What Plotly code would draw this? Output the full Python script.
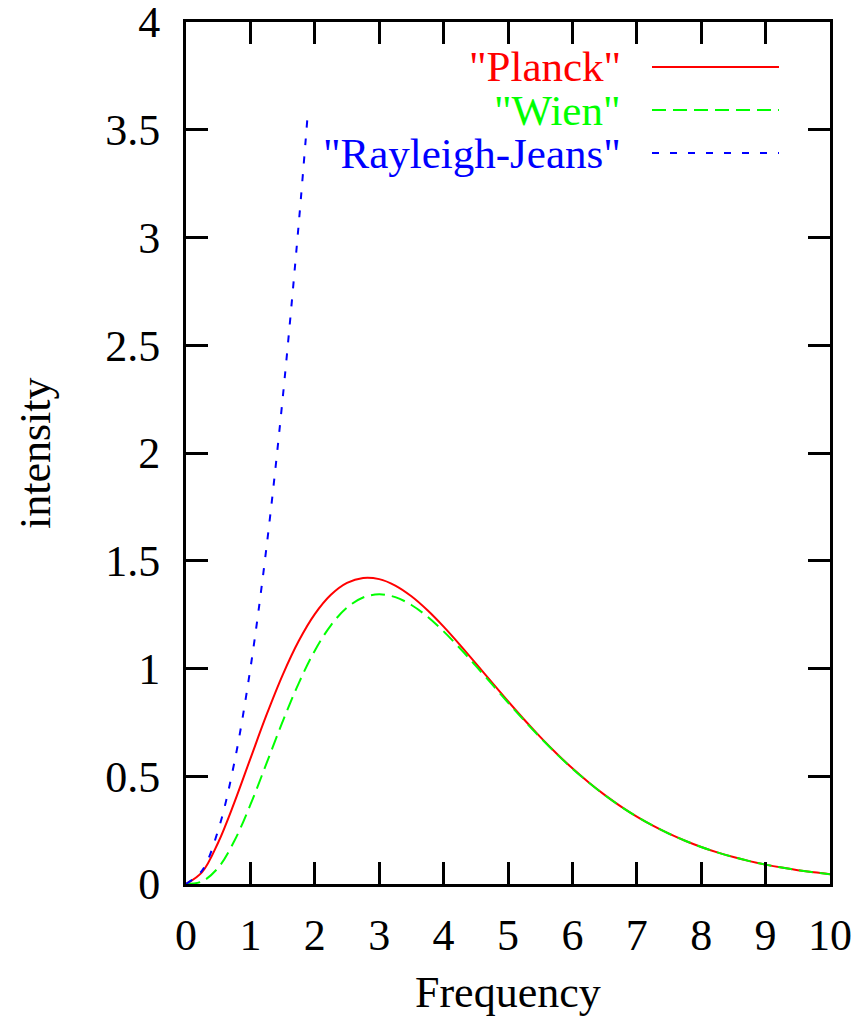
import plotly.graph_objects as go

# Frequency samples
freq = [0.0, 0.25, 0.5, 0.75, 1.0, 1.25, 1.5, 1.75, 2.0, 2.25, 2.5, 2.75, 3.0,
        3.25, 3.5, 3.75, 4.0, 4.25, 4.5, 4.75, 5.0, 5.25, 5.5, 5.75, 6.0, 6.25,
        6.5, 6.75, 7.0, 7.25, 7.5, 7.75, 8.0, 8.25, 8.5, 8.75, 9.0, 9.25, 9.5,
        9.75, 10.0]

planck = [0.0, 0.0550, 0.1927, 0.3777, 0.5820, 0.7843, 0.9694, 1.1272, 1.2521,
          1.3420, 1.3973, 1.4203, 1.4147, 1.3847, 1.3350, 1.2701, 1.1941, 1.1109,
          1.0237, 0.9353, 0.8480, 0.7633, 0.6827, 0.6070, 0.5367, 0.4722, 0.4135,
          0.3605, 0.3131, 0.2708, 0.2335, 0.2006, 0.1718, 0.1467, 0.1250, 0.1062,
          0.0900, 0.0761, 0.0642, 0.0540, 0.0454]

wien = [0.0, 0.0122, 0.0758, 0.1993, 0.3679, 0.5596, 0.7531, 0.9313, 1.0827,
        1.2006, 1.2826, 1.3295, 1.3443, 1.3310, 1.2947, 1.2402, 1.1722, 1.0950,
        1.0123, 0.9272, 0.8422, 0.7593, 0.6799, 0.6051, 0.5354, 0.4713, 0.4129,
        0.3601, 0.3128, 0.2706, 0.2333, 0.2005, 0.1718, 0.1467, 0.1250, 0.1062,
        0.0900, 0.0761, 0.0642, 0.0540, 0.0454]

rj_freq = [0.0, 0.25, 0.5, 0.75, 1.0, 1.25, 1.5, 1.75, 1.89]
rj = [0.0, 0.0625, 0.25, 0.5625, 1.0, 1.5625, 2.25, 3.0625, 3.572]

x_ticks = [0, 1, 2, 3, 4, 5, 6, 7, 8, 9, 10]
y_ticks = [0, 0.5, 1, 1.5, 2, 2.5, 3, 3.5, 4]
y_labels = ["0", "0.5", "1", "1.5", "2", "2.5", "3", "3.5", "4"]

series_names = ['"Planck"', '"Wien"', '"Rayleigh-Jeans"']
colors = ["#ff0000", "#00ff00", "#0000ff"]
dashes = ["solid", "14px,7px", "7px,11px"]

FONT = "Liberation Serif"
FS = 44
FS_KEY = 43

fig = go.Figure()
for xs, ys, name, c, d in [(freq, planck, series_names[0], colors[0], dashes[0]),
                           (freq, wien, series_names[1], colors[1], dashes[1]),
                           (rj_freq, rj, series_names[2], colors[2], dashes[2])]:
    fig.add_trace(go.Scatter(x=xs, y=ys, mode="lines", name=name,
                             line=dict(color=c, width=2, dash=d, shape="spline"),
                             showlegend=False, cliponaxis=True))

axis_common = dict(showline=True, linewidth=3, linecolor="black", mirror="ticks",
                   ticks="inside", ticklen=22, tickwidth=3, tickcolor="black",
                   showgrid=False, zeroline=False, ticklabeloverflow="allow",
                   automargin=False,
                   tickfont=dict(family=FONT, size=FS, color="black"))

fig.update_xaxes(range=[0, 10], tickvals=x_ticks, ticktext=[str(v) for v in x_ticks],
                 ticklabelstandoff=10, **axis_common)
fig.update_yaxes(range=[0, 4], tickvals=y_ticks, ticktext=y_labels,
                 ticklabelstandoff=14, **axis_common)

# Axis titles
fig.add_annotation(text="Frequency", xref="paper", yref="paper", x=0.5, y=-0.1255,
                   xanchor="center", yanchor="middle", showarrow=False,
                   font=dict(family=FONT, size=FS, color="black"))
fig.add_annotation(text="intensity", xref="paper", yref="paper", x=-0.2345, y=0.5,
                   xanchor="center", yanchor="middle", showarrow=False, textangle=-90,
                   font=dict(family=FONT, size=FS, color="black"))

# Key (legend) entries
key_y = [0.9478, 0.8979, 0.848]
for name, c, d, ky in zip(series_names, colors, dashes, key_y):
    fig.add_annotation(text=name, xref="paper", yref="paper", x=0.6786, y=ky,
                       xanchor="right", yanchor="middle", showarrow=False,
                       font=dict(family=FONT, size=FS_KEY, color=c))
    fig.add_shape(type="line", xref="paper", yref="paper", x0=0.7236, x1=0.9208,
                  y0=ky, y1=ky, line=dict(color=c, width=2, dash=d))

fig.update_layout(width=868, height=1016, margin=dict(l=186, r=38, t=22, b=132,
                                                      autoexpand=False),
                  plot_bgcolor="white", paper_bgcolor="white",
                  font=dict(family=FONT, size=FS, color="black"))

fig.write_html("out.html")
